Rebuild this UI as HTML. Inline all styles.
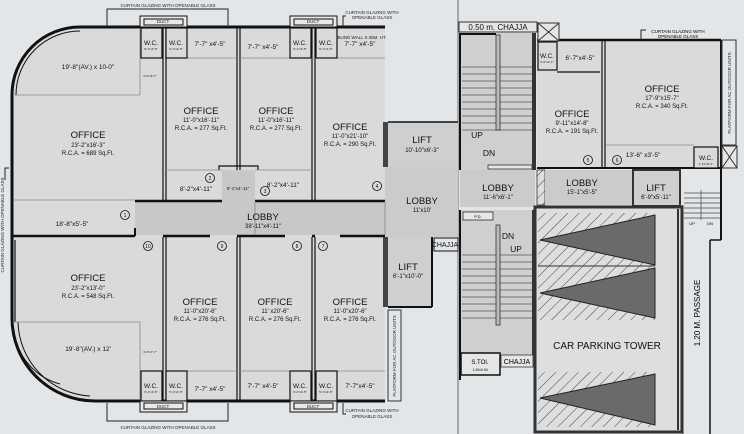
<!DOCTYPE html>
<html><head><meta charset="utf-8"><style>
html,body{margin:0;padding:0;background:#e3e6e9;}
svg{display:block;font-family:"Liberation Sans",sans-serif;}
</style></head><body>
<svg width="744" height="434" viewBox="0 0 744 434" xmlns="http://www.w3.org/2000/svg">
<defs>
<pattern id="h" width="8" height="8" patternUnits="userSpaceOnUse" patternTransform="rotate(45)">
<rect width="8" height="8" fill="#dcdee0"/><line x1="0" y1="0" x2="0" y2="8" stroke="#444" stroke-width="1"/>
</pattern>
</defs>
<rect width="744" height="434" fill="#e3e6e9"/>
<line x1="458" y1="0" x2="458" y2="434" stroke="#666" stroke-width="1"/>

<path d="M12,95 A68,68 0 0 1 80,27 L385,27 L385,401 L95,401 A83,83 0 0 1 12,318 Z" fill="#dadada"/>
<rect x="135" y="201" width="250" height="34" fill="#c8c8c8"/>
<rect x="222" y="170" width="33" height="31" fill="#c8c8c8"/>
<rect x="385" y="167" width="73" height="70" fill="#cbcbcb"/>
<rect x="388" y="122" width="70" height="45" fill="#cfcfcf"/>
<rect x="388" y="237" width="44" height="70" fill="#cfcfcf"/>
<path d="M12,95 A68,68 0 0 1 80,27 L385,27" fill="none" stroke="#111" stroke-width="3"/>
<path d="M16,95 A64,64 0 0 1 80,31" fill="none" stroke="#111" stroke-width="1"/>
<line x1="12" y1="95" x2="12" y2="318" stroke="#111" stroke-width="3"/>
<path d="M12,318 A83,83 0 0 0 95,401 L385,401" fill="none" stroke="#111" stroke-width="3"/>
<path d="M18,322 A76,76 0 0 0 90,396" fill="none" stroke="#111" stroke-width="1"/>
<path d="M14,330 A62,62 0 0 0 60,384" fill="none" stroke="#111" stroke-width="1"/>
<g stroke="#111" stroke-width="1.2" fill="none">
<line x1="163" y1="28" x2="163" y2="201"/><line x1="166" y1="28" x2="166" y2="201"/>
<line x1="237" y1="28" x2="237" y2="170"/><line x1="240" y1="28" x2="240" y2="170"/>
<line x1="312" y1="28" x2="312" y2="201"/><line x1="315" y1="28" x2="315" y2="201"/>
<line x1="163" y1="237" x2="163" y2="401"/><line x1="166" y1="237" x2="166" y2="401"/>
<line x1="237" y1="237" x2="237" y2="401"/><line x1="240" y1="237" x2="240" y2="401"/>
<line x1="312" y1="237" x2="312" y2="401"/><line x1="315" y1="237" x2="315" y2="401"/>
<line x1="135" y1="201" x2="222" y2="201" stroke-width="2.5"/><line x1="255" y1="201" x2="385" y2="201" stroke-width="2.5"/>
<polyline points="219,170 219,166 258,166 258,170" />
<line x1="12" y1="236" x2="135" y2="236" stroke-width="2.5"/>
<line x1="135" y1="236" x2="135" y2="228" stroke-width="2"/>
<line x1="163" y1="236" x2="210" y2="236" stroke-width="2.5"/><line x1="237" y1="236" x2="285" y2="236" stroke-width="2.5"/>
<line x1="312" y1="236" x2="315" y2="236" stroke-width="2.5"/><line x1="340" y1="236" x2="385" y2="236" stroke-width="2.5"/>
<line x1="15" y1="240" x2="15" y2="322"/>
</g>
<g stroke="#888" stroke-width="0.8">
<line x1="13" y1="95" x2="140" y2="95"/><line x1="140" y1="28" x2="140" y2="95"/>
<line x1="13" y1="200" x2="135" y2="200"/>
<line x1="166" y1="58" x2="385" y2="58"/>
<line x1="166" y1="170" x2="222" y2="170"/><line x1="255" y1="170" x2="312" y2="170"/>
<line x1="13" y1="322" x2="140" y2="322"/><line x1="140" y1="322" x2="140" y2="401"/>
<line x1="166" y1="371" x2="385" y2="371"/>
<line x1="255" y1="201" x2="255" y2="235"/><line x1="385" y1="201" x2="385" y2="235"/>
</g>
<g fill="#dadada" stroke="#111" stroke-width="1.2">
<rect x="141" y="28" width="21" height="30"/><rect x="166" y="28" width="21" height="30"/>
<rect x="290" y="28" width="21" height="30"/><rect x="316" y="28" width="21" height="30"/>
<rect x="141" y="371" width="21" height="30"/><rect x="166" y="371" width="21" height="30"/>
<rect x="290" y="371" width="21" height="30"/><rect x="316" y="371" width="21" height="30"/>
</g>
<g fill="#e8e8e8" stroke="#111" stroke-width="1">
<rect x="140" y="16" width="47" height="11"/><rect x="144" y="19" width="39" height="6"/>
<rect x="290" y="16" width="47" height="11"/><rect x="294" y="19" width="39" height="6"/>
<rect x="140" y="401" width="47" height="11"/><rect x="144" y="403" width="39" height="6"/>
<rect x="290" y="401" width="47" height="11"/><rect x="294" y="403" width="39" height="6"/>
</g>
<g stroke="#222" stroke-width="1" fill="none">
<polyline points="107,27 107,9 228,9 228,27"/>
<polyline points="107,403 107,421 228,421 228,403"/>
<polyline points="343,27 343,16 346,16"/>
<polyline points="343,403 343,414 346,414"/>
<polyline points="5,180 5,168 9,168"/>
</g>
<g font-size="4.5" fill="#222" text-anchor="middle">
<text x="168" y="7">CURTAIN GLAZING WITH OPENABLE GLASS</text>
<text x="168" y="429">CURTAIN GLAZING WITH OPENABLE GLASS</text>
<text x="372" y="14">CURTAIN GLAZING WITH</text><text x="372" y="19">OPENABLE GLASS</text>
<text x="372" y="412">CURTAIN GLAZING WITH</text><text x="372" y="418">OPENABLE GLASS</text>
<text x="163" y="23">DUCT</text><text x="313" y="23">DUCT</text><text x="163" y="408">DUCT</text><text x="313" y="408">DUCT</text>
<text x="362" y="39">BUND WALL 0.30M. HT.</text>
<text transform="translate(4,225) rotate(-90)">CURTAIN GLAZING WITH OPENABLE GLASS</text>
</g>
<rect x="383" y="122" width="5" height="45" fill="#444"/>
<rect x="383" y="237" width="5" height="70" fill="#444"/>
<line x1="432" y1="237" x2="432" y2="307" stroke="#111" stroke-width="2"/>
<line x1="388" y1="307" x2="432" y2="307" stroke="#111" stroke-width="2"/>
<line x1="388" y1="122" x2="458" y2="122" stroke="#111" stroke-width="1.5"/>
<rect x="434" y="238" width="24" height="13" fill="#e3e6e9" stroke="#111" stroke-width="1"/>
<rect x="388" y="310" width="13" height="91" fill="none" stroke="#333" stroke-width="1"/>
<text transform="translate(396,356) rotate(-90)" font-size="4.5" text-anchor="middle" fill="#222">PLATFORM FOR AC OUTDOOR UNITS</text>

<rect x="460" y="33" width="75" height="137" fill="#cfcfcf"/>
<rect x="460" y="170" width="75" height="37" fill="#cbcbcb"/>
<rect x="460" y="210" width="75" height="145" fill="#cfcfcf"/>
<g stroke="#555" stroke-width="0.8">
<line x1="462" y1="67" x2="532" y2="67"/><line x1="462" y1="74" x2="532" y2="74"/><line x1="462" y1="81" x2="532" y2="81"/><line x1="462" y1="88" x2="532" y2="88"/><line x1="462" y1="95" x2="532" y2="95"/><line x1="462" y1="102" x2="532" y2="102"/><line x1="462" y1="109" x2="532" y2="109"/><line x1="462" y1="116" x2="532" y2="116"/><line x1="462" y1="123" x2="532" y2="123"/><line x1="462" y1="130" x2="532" y2="130"/>
<line x1="462" y1="255" x2="532" y2="255"/><line x1="462" y1="262" x2="532" y2="262"/><line x1="462" y1="269" x2="532" y2="269"/><line x1="462" y1="276" x2="532" y2="276"/><line x1="462" y1="283" x2="532" y2="283"/><line x1="462" y1="290" x2="532" y2="290"/><line x1="462" y1="297" x2="532" y2="297"/><line x1="462" y1="304" x2="532" y2="304"/><line x1="462" y1="311" x2="532" y2="311"/><line x1="462" y1="318" x2="532" y2="318"/>
</g>
<rect x="496" y="35" width="4" height="95" fill="#bbb" stroke="#333" stroke-width="0.8"/>
<rect x="496" y="225" width="4" height="100" fill="#bbb" stroke="#333" stroke-width="0.8"/>
<line x1="460" y1="33" x2="460" y2="170" stroke="#111" stroke-width="2"/>
<line x1="460" y1="210" x2="460" y2="380" stroke="#111" stroke-width="2"/>
<rect x="532" y="33" width="4" height="137" fill="#333"/>
<rect x="532" y="210" width="4" height="145" fill="#333"/>
<line x1="460" y1="34" x2="496" y2="34" stroke="#111" stroke-width="2"/>
<rect x="459" y="22" width="78" height="10" fill="#e6e6e6" stroke="#333" stroke-width="1"/>
<text x="498" y="30" font-size="8" text-anchor="middle" fill="#111">0.50 m. CHAJJA</text>
<rect x="461" y="353" width="39" height="22" fill="#e6e6e6" stroke="#111" stroke-width="1.5"/>
<text x="480" y="364" font-size="6" text-anchor="middle">S.TOI.</text>
<text x="480" y="371" font-size="3.5" text-anchor="middle">1.20x0.94</text>
<rect x="501" y="355" width="32" height="12" fill="#e6e6e6" stroke="#333" stroke-width="0.8"/>
<text x="517" y="364" font-size="7" text-anchor="middle">CHAJJA</text>
<rect x="463" y="212" width="30" height="8" fill="#e6e6e6" stroke="#333" stroke-width="0.8"/>
<text x="478" y="218" font-size="4" text-anchor="middle">P.D.</text>
<rect x="488" y="165" width="44" height="4" fill="#e6e6e6" stroke="#333" stroke-width="0.8"/>

<rect x="537" y="40" width="184" height="128" fill="#dadada"/>
<rect x="537" y="170" width="8" height="35" fill="url(#h)" stroke="#333" stroke-width="0.8"/>
<rect x="545" y="170" width="88" height="35" fill="#cbcbcb"/>
<rect x="633" y="170" width="47" height="36" fill="#cfcfcf" stroke="#333" stroke-width="2"/>
<line x1="537" y1="40" x2="721" y2="40" stroke="#111" stroke-width="2.5"/>
<line x1="721" y1="40" x2="721" y2="240" stroke="#111" stroke-width="2"/>
<line x1="721" y1="240" x2="710" y2="240" stroke="#111" stroke-width="1.5"/>
<line x1="710" y1="240" x2="710" y2="434" stroke="#111" stroke-width="1.5"/>
<g stroke="#111" stroke-width="1.2" fill="none">
<line x1="602" y1="41" x2="602" y2="167"/><line x1="605" y1="41" x2="605" y2="167"/>
<rect x="538" y="42" width="19" height="28"/>
<line x1="557" y1="72" x2="600" y2="72"/>
<line x1="537" y1="168" x2="720" y2="168" stroke-width="2"/>
<rect x="694" y="147" width="24" height="21" fill="#dadada"/>
</g>
<line x1="606" y1="145" x2="694" y2="145" stroke="#888" stroke-width="0.8"/>
<rect x="722" y="40" width="14" height="105" fill="none" stroke="#333" stroke-width="1"/>
<text transform="translate(731,93) rotate(-90)" font-size="4.5" text-anchor="middle" fill="#222">PLATFORM FOR AC OUTDOOR UNITS</text>
<g stroke="#333" stroke-width="1" fill="#e6e6e6">
<rect x="722" y="146" width="15" height="22"/><line x1="722" y1="146" x2="737" y2="168"/><line x1="737" y1="146" x2="722" y2="168"/>
<rect x="538" y="23" width="21" height="18"/><line x1="538" y1="23" x2="559" y2="41"/><line x1="559" y1="23" x2="538" y2="41"/>
</g>
<polyline points="641,40 641,30 646,30" stroke="#222" fill="none"/>
<text x="678" y="33" font-size="4.5" text-anchor="middle">CURTAIN GLAZING WITH</text>
<text x="678" y="38" font-size="4.5" text-anchor="middle">OPENABLE GLASS</text>

<rect x="535" y="207" width="147" height="225" fill="#dcdee0" stroke="#333" stroke-width="3"/>
<rect x="538" y="213" width="117" height="107" fill="url(#h)"/>
<rect x="538" y="372" width="117" height="55" fill="url(#h)"/>
<g fill="#6a6a6a" stroke="#222" stroke-width="1">
<polygon points="655,215 540,240 655,265"/>
<polygon points="655,268 540,293 655,318"/>
<polygon points="655,374 540,398 655,425"/>
</g>
<line x1="538" y1="266" x2="655" y2="266" stroke="#333" stroke-width="1"/>
<line x1="678" y1="209" x2="678" y2="430" stroke="#333" stroke-width="2"/>
<line x1="683" y1="205" x2="683" y2="434" stroke="#333" stroke-width="1"/>
<text x="607" y="349" font-size="10" text-anchor="middle" fill="#111">CAR PARKING TOWER</text>
<g stroke="#444" stroke-width="0.7">
<line x1="684" y1="193" x2="720" y2="193"/><line x1="684" y1="198" x2="720" y2="198"/><line x1="684" y1="203" x2="720" y2="203"/><line x1="684" y1="208" x2="720" y2="208"/><line x1="684" y1="213" x2="720" y2="213"/><line x1="684" y1="218" x2="720" y2="218"/>
<line x1="701" y1="190" x2="701" y2="220"/>
</g>
<text x="692" y="225" font-size="4" text-anchor="middle">UP</text><text x="710" y="225" font-size="4" text-anchor="middle">DN</text>
<text transform="translate(700,313) rotate(-90)" font-size="8" text-anchor="middle">1.20 M. PASSAGE</text>

<g fill="#111" text-anchor="middle">
<g font-size="6.5">
<text x="151" y="45">W.C.</text><text x="176" y="45">W.C.</text><text x="300" y="45">W.C.</text><text x="326" y="45">W.C.</text>
<text x="151" y="388">W.C.</text><text x="176" y="388">W.C.</text><text x="300" y="388">W.C.</text><text x="326" y="388">W.C.</text>
<text x="547" y="58">W.C.</text><text x="706" y="160">W.C.</text>
</g>
<g font-size="3">
<text x="151" y="50">5'-1"x4'-5"</text><text x="176" y="50">5'-1"x4'-5"</text><text x="300" y="50">5'-1"x4'-5"</text><text x="326" y="50">5'-1"x4'-5"</text>
<text x="151" y="393">5'-1"x4'-5"</text><text x="176" y="393">5'-1"x4'-5"</text><text x="300" y="393">5'-1"x4'-5"</text><text x="326" y="393">5'-1"x4'-5"</text>
<text x="547" y="63">5'-0"x4'-1"</text><text x="706" y="165">7'-11"x3'-1"</text>
<text x="150" y="77">3'-6"x8'-7"</text><text x="150" y="353">3'-6"x7'-7"</text>
</g>
<g font-size="6.5">
<text x="210" y="46">7'-7" x4'-5"</text><text x="263" y="49">7'-7" x4'-5"</text><text x="360" y="46">7'-7" x4'-5"</text>
<text x="210" y="391">7'-7" x4'-5"</text><text x="263" y="388">7'-7" x4'-5"</text><text x="360" y="388">7'-7"x4'-5"</text>
<text x="88" y="69">19'-8"(AV.) x 10-0"</text><text x="88" y="351">19'-8"(AV.) x 12'</text>
<text x="72" y="226">18'-8"x5'-5"</text>
<text x="196" y="191">8'-2"x4'-11"</text><text x="283" y="187">8'-2"x4'-11"</text>
<text x="580" y="60">6'-7"x4'-5"</text><text x="643" y="157">13'-6" x3'-5"</text>
</g>
<text x="238" y="190" font-size="4.5">5'-1"x4'-11"</text>
<g font-size="9.5">
<text x="88" y="138">OFFICE</text><text x="201" y="114">OFFICE</text><text x="276" y="114">OFFICE</text><text x="350" y="130">OFFICE</text>
<text x="88" y="281">OFFICE</text><text x="200" y="305">OFFICE</text><text x="275" y="305">OFFICE</text><text x="350" y="305">OFFICE</text>
<text x="572" y="117">OFFICE</text><text x="662" y="92">OFFICE</text>
<text x="263" y="220">LOBBY</text><text x="422" y="204">LOBBY</text><text x="498" y="191">LOBBY</text><text x="582" y="186">LOBBY</text>
<text x="422" y="143">LIFT</text><text x="408" y="270">LIFT</text><text x="656" y="191">LIFT</text>
</g>
<g font-size="6">
<text x="88" y="147">23'-2"x16'-3"</text><text x="88" y="155">R.C.A. = 689 Sq.Ft.</text>
<text x="201" y="122">11'-0"x16'-11"</text><text x="201" y="130">R.C.A. = 277 Sq.Ft.</text>
<text x="276" y="122">11'-0"x16'-11"</text><text x="276" y="130">R.C.A. = 277 Sq.Ft.</text>
<text x="350" y="138">11'-0"x21'-10"</text><text x="350" y="146">R.C.A. = 290 Sq.Ft.</text>
<text x="88" y="290">23'-2"x13'-0"</text><text x="88" y="298">R.C.A. = 548 Sq.Ft.</text>
<text x="200" y="313">11'-0"x20'-6"</text><text x="200" y="321">R.C.A. = 276 Sq.Ft.</text>
<text x="275" y="313">11' x20'-6"</text><text x="275" y="321">R.C.A. = 276 Sq.Ft.</text>
<text x="350" y="313">11'-0"x20'-6"</text><text x="350" y="321">R.C.A. = 276 Sq.Ft.</text>
<text x="572" y="125">9'-11"x14'-8"</text><text x="572" y="133">R.C.A. = 191 Sq.Ft.</text>
<text x="662" y="100">17'-9"x15'-7"</text><text x="662" y="108">R.C.A. = 340 Sq.Ft.</text>
<text x="263" y="228">38'-11"x4'-11"</text><text x="422" y="212">11'x10'</text>
<text x="498" y="199">11'-6"x6'-1"</text><text x="582" y="194">15'-1"x5'-5"</text>
<text x="422" y="152">10'-10"x6'-3"</text><text x="408" y="278">6'-1"x10'-0"</text><text x="656" y="199">6'-9"x5'-11"</text>
</g>
<g font-size="8.5">
<text x="477" y="138">UP</text><text x="489" y="156">DN</text>
<text x="508" y="239">DN</text><text x="516" y="252">UP</text>
</g>
<text x="445" y="247" font-size="7">CHAJJA</text>
</g>
<g fill="none" stroke="#111" stroke-width="0.8">
<circle cx="125" cy="215" r="4.5"/><circle cx="210" cy="178" r="4.5"/><circle cx="265" cy="191" r="4.5"/><circle cx="377" cy="186" r="4.5"/>
<circle cx="148" cy="246" r="4.5"/><circle cx="222" cy="246" r="4.5"/><circle cx="297" cy="246" r="4.5"/><circle cx="323" cy="246" r="4.5"/>
<circle cx="588" cy="160" r="4.5"/><circle cx="617" cy="160" r="4.5"/>
</g>
<g font-size="5" text-anchor="middle" fill="#111">
<text x="125" y="217">1</text><text x="210" y="180">2</text><text x="265" y="193">3</text><text x="377" y="188">4</text>
<text x="148" y="248">10</text><text x="222" y="248">9</text><text x="297" y="248">8</text><text x="323" y="248">7</text>
<text x="588" y="162">5</text><text x="617" y="162">6</text>
</g>
</svg>
</body></html>
